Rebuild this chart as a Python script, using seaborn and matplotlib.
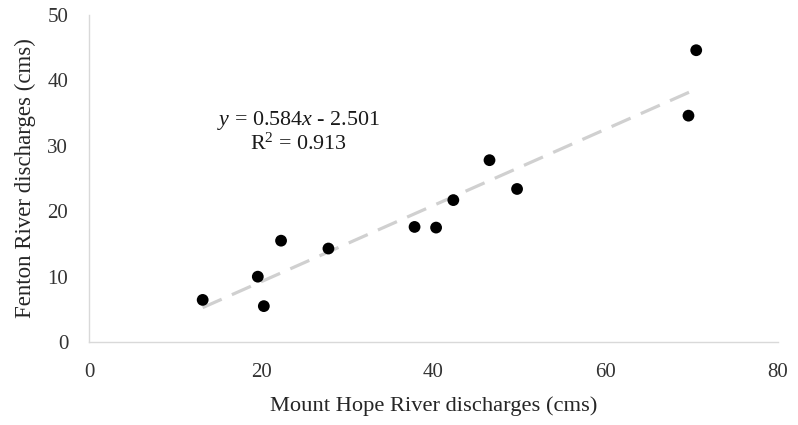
import matplotlib.pyplot as plt
import pandas as pd
import seaborn as sns

mount_hope = [13.2, 19.6, 20.3, 22.3, 27.8, 37.8, 40.3, 42.3, 46.5, 49.7, 69.6, 70.5]
fenton = [6.45, 10.0, 5.5, 15.5, 14.3, 17.6, 17.5, 21.7, 27.8, 23.4, 34.6, 44.6]
x_ticks = [0, 20, 40, 60, 80]
y_ticks = [0, 10, 20, 30, 40, 50]

sns.set_theme(style="white")
plt.rcParams["font.family"] = ["Liberation Serif", "DejaVu Serif"]
plt.rcParams["mathtext.fontset"] = "custom"
plt.rcParams["mathtext.rm"] = "Liberation Serif"
plt.rcParams["mathtext.it"] = "Liberation Serif:italic"

df = pd.DataFrame({"x": mount_hope, "y": fenton})

fig, ax = plt.subplots(figsize=(7.98, 4.25), dpi=100)
fig.subplots_adjust(left=0.1115, right=0.975, top=0.965, bottom=0.195)

sns.regplot(
    data=df, x="x", y="y", ax=ax, ci=None,
    scatter_kws={"s": 72, "color": "black", "alpha": 1, "edgecolor": "none", "zorder": 3},
    line_kws={"color": "#d0d0d0", "linewidth": 2.3, "dashes": (6.5, 3.5), "zorder": 2},
)

ax.text(24.3, 33.8, r"$y$ = 0.584$x$ - 2.501", ha="center", va="center", fontsize=15.8, color="#1a1a1a")
ax.text(24.3, 30.3, r"R$^2$ = 0.913", ha="center", va="center", fontsize=15.8, color="#1a1a1a")

ax.set_xlim(0, 80)
ax.set_ylim(0, 50)
ax.set_xticks(x_ticks)
ax.set_yticks(y_ticks)
ax.tick_params(length=0, pad=15, labelsize=15, colors="#333333")
ax.set_xlabel("Mount Hope River discharges (cms)", fontsize=16.2, labelpad=10, color="#262626")
ax.set_ylabel("Fenton River discharges (cms)", fontsize=16.5, labelpad=8, color="#262626")

for side in ["top", "right"]:
    ax.spines[side].set_visible(False)
for side in ["left", "bottom"]:
    ax.spines[side].set_color("#d9d9d9")
    ax.spines[side].set_linewidth(1.0)

fig.savefig("out.png", dpi=100)
